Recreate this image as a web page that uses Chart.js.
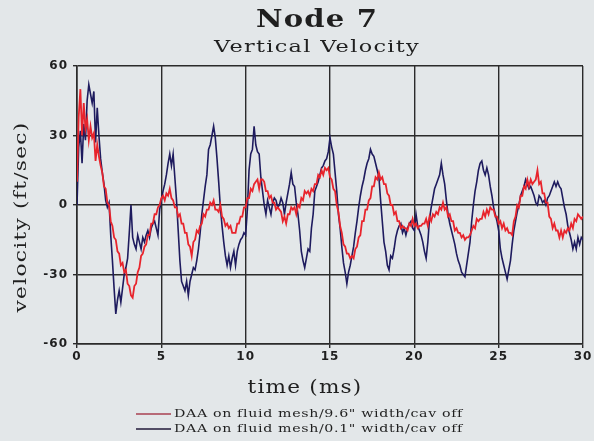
<!DOCTYPE html>
<html>
<head>
<meta charset="utf-8">
<script src="https://cdn.jsdelivr.net/npm/chart.js@4.4.1/dist/chart.umd.min.js"></script>
<style>
  html, body { margin: 0; padding: 0; background: #e3e7e9; }
  #wrap { width: 594px; height: 441px; position: relative; }
</style>
</head>
<body>
<div id="wrap"><canvas id="nodeChart" width="594" height="441"></canvas></div>
<script>
// Sample spacing of the traces (ms); one value every 0.1 ms from 0 to 30 ms.
const sampleStepMs = 0.1;

// Red trace: DAA on fluid mesh / 9.6" width / cav off (ft/sec)
const velRed = [
  10, 38, 50, 30, 44, 33, 37, 28, 34, 29,
  31, 19, 26, 21, 17, 14, 8, 7, 1, 0,
  -7, -9, -14, -15, -20, -21, -26, -25, -29, -28,
  -34, -35, -39, -40, -35, -34, -29, -27, -22, -21,
  -18, -17, -13, -13, -8, -8, -4, -4, -1, 0,
  3, 4, 2, 5, 4, 7, 3, 2, -1, -1,
  -5, -4, -8, -8, -12, -12, -17, -18, -22, -16,
  -15, -11, -12, -9, -8, -4, -5, -2, -2, 1,
  0, 2, -2, -2, -3, 0, -5, -6, -9, -8,
  -10, -9, -12, -12, -12, -8, -8, -5, -5, -1,
  -1, 3, 3, 7, 6, 9, 10, 11, 7, 11,
  11, 10, 6, 6, 3, 4, 1, 1, -2, -1,
  -2, -3, -7, -5, -8, -4, -4, -1, -2, -1,
  -4, 0, -1, 3, 2, 6, 5, 6, 4, 7,
  6, 9, 9, 13, 12, 15, 13, 16, 15, 16,
  12, 11, 7, 6, 0, -3, -9, -12, -17, -18,
  -21, -21, -23, -22, -23, -19, -18, -14, -13, -7,
  -7, -2, -2, 2, 3, 8, 8, 12, 11, 14,
  11, 12, 9, 9, 5, 4, 0, 0, -4, -3,
  -7, -7, -10, -9, -10, -10, -11, -8, -9, -6,
  -9, -8, -10, -9, -9, -8, -8, -6, -9, -5,
  -7, -4, -5, -3, -4, -1, -2, 1, -2, -1,
  -5, -4, -7, -7, -11, -10, -12, -12, -14, -13,
  -15, -14, -14, -13, -11, -9, -10, -6, -7, -6,
  -6, -3, -5, -2, -4, -1, -2, -2, -5, -5,
  -8, -7, -10, -8, -11, -10, -12, -12, -13, -7,
  -5, 0, -1, 4, 4, 8, 7, 11, 8, 11,
  9, 10, 11, 15, 9, 10, 5, 5, 1, 1,
  -5, -6, -10, -8, -11, -11, -14, -11, -14, -11,
  -12, -10, -11, -8, -10, -6, -7, -4, -5, -6,
  -5
];

// Dark blue trace: DAA on fluid mesh / 0.1" width / cav off (ft/sec)
const velBlue = [
  0, 25, 32, 18, 35, 28, 45, 52, 48, 44,
  49, 27, 42, 30, 20, 14, 9, 2, -1, 1,
  -13, -24, -36, -47, -41, -37, -42, -36, -30, -27,
  -23, -12, 0, -14, -17, -19, -13, -16, -19, -14,
  -16, -13, -11, -14, -10, -8, -7, -10, -13, -2,
  2, 6, 9, 13, 18, 22, 17, 22, 12, 2,
  -11, -24, -33, -35, -37, -33, -39, -33, -30, -27,
  -28, -24, -19, -12, -4, 2, 8, 13, 24, 26,
  30, 34, 29, 20, 10, -1, -9, -16, -22, -26,
  -22, -27, -23, -20, -26, -20, -17, -15, -14, -12,
  -13, -2, 15, 22, 24, 34, 26, 23, 22, 12,
  6, 0, -4, 2, -1, -4, 1, 3, 2, -1,
  0, 3, 1, -4, 1, 5, 9, 14, 9, 8,
  1, -4, -11, -20, -24, -27, -23, -19, -20, -10,
  -4, 6, 8, 10, 13, 16, 17, 19, 20, 23,
  29, 25, 22, 14, 6, -4, -10, -18, -25, -29,
  -34, -29, -26, -22, -18, -12, -7, -1, 4, 8,
  11, 15, 18, 20, 24, 22, 21, 18, 15, 12,
  2, -7, -16, -20, -26, -28, -22, -23, -19, -14,
  -11, -9, -8, -12, -10, -13, -10, -8, -7, -10,
  -11, -4, -9, -11, -13, -16, -20, -23, -16, -6,
  -1, 3, 7, 9, 11, 13, 18, 13, 9, 2,
  -4, -8, -11, -14, -17, -21, -24, -26, -29, -30,
  -31, -26, -21, -16, -7, 0, 6, 10, 15, 18,
  19, 15, 13, 16, 13, 8, 4, -1, -4, -7,
  -11, -19, -23, -26, -29, -32, -28, -24, -17, -11,
  -7, -3, 0, 4, 6, 8, 11, 9, 7, 8,
  6, 4, 1, 0, 4, 3, 1, 2, 0, 3,
  4, 6, 8, 10, 8, 10, 8, 7, 3, -1,
  -4, -9, -12, -15, -19, -16, -19, -14, -17, -14,
  -15
];

const seriesNames = [
  'DAA on fluid mesh/9.6" width/cav off',
  'DAA on fluid mesh/0.1" width/cav off'
];
const xTicks = [0, 5, 10, 15, 20, 25, 30];
const yTicks = [-60, -30, 0, 30, 60];

const redColor = "#e8242c";
const blueColor = "#1e1b5e";
const inkColor = "#1f1f1f";

function toPoints(values) {
  return values.map((v, i) => ({ x: Math.round(i * sampleStepMs * 10) / 10, y: v }));
}

// The original lettering is a very wide face. Draw it with a normal
// serif and stretch it sideways to the width it has in the figure.
function drawWide(ctx, text, x, y, width, font, opts = {}) {
  ctx.save();
  ctx.font = font;
  ctx.letterSpacing = opts.spacing || "0px";
  ctx.textBaseline = opts.baseline || "alphabetic";
  ctx.textAlign = opts.align || "center";
  const natural = ctx.measureText(text).width;
  ctx.translate(x, y);
  if (opts.rotate) ctx.rotate(opts.rotate);
  ctx.scale(width / natural, 1);
  ctx.fillText(text, 0, 0);
  ctx.restore();
}

// A bit of letter spacing on the tick labels too.
const spacingPlugin = {
  id: "tickSpacing",
  beforeDraw(chart) {
    chart.ctx.letterSpacing = "1px";
  },
};

// Titles, axis captions and the two-row legend are placed by hand
// so they sit where the original figure has them.
const textPlugin = {
  id: "nodeText",
  afterDraw(chart) {
    const { ctx } = chart;
    ctx.save();
    ctx.fillStyle = inkColor;

    drawWide(ctx, "Node 7", 317, 27, 122, "bold 25px 'DejaVu Serif'", { spacing: "1px" });
    drawWide(ctx, "Vertical Velocity", 317, 52, 206, "17px 'DejaVu Serif'", { spacing: "1px" });
    drawWide(ctx, "time (ms)", 305, 388, 115, "18px 'DejaVu Serif'", { spacing: "1px", baseline: "middle" });
    drawWide(ctx, "velocity (ft/sec)", 22, 217, 191, "17px 'DejaVu Serif'",
      { spacing: "1px", baseline: "middle", rotate: -Math.PI / 2 });

    // legend rows
    const rows = [
      { y: 414, color: "#a84050", text: seriesNames[0] },
      { y: 429, color: "#221a38", text: seriesNames[1] },
    ];
    rows.forEach((r) => {
      ctx.strokeStyle = r.color;
      ctx.lineWidth = 1.5;
      ctx.beginPath();
      ctx.moveTo(136, r.y);
      ctx.lineTo(171, r.y);
      ctx.stroke();
      drawWide(ctx, r.text, 174, r.y, 289, "11px 'DejaVu Serif'",
        { spacing: "0.5px", baseline: "middle", align: "left" });
    });
    ctx.restore();
  },
};

const ctx = document.getElementById("nodeChart").getContext("2d");
new Chart(ctx, {
  type: "line",
  data: {
    datasets: [
      {
        label: seriesNames[0],
        data: toPoints(velRed),
        borderColor: redColor,
        borderWidth: 1.8,
        pointRadius: 0,
        tension: 0,
      },
      {
        label: seriesNames[1],
        data: toPoints(velBlue),
        borderColor: blueColor,
        borderWidth: 1.6,
        pointRadius: 0,
        tension: 0,
      },
    ],
  },
  options: {
    responsive: false,
    animation: false,
    layout: { padding: { top: 66, right: 11, left: 0, bottom: 0 } },
    plugins: {
      legend: { display: false },
      title: { display: false },
      tooltip: { enabled: false },
    },
    scales: {
      x: {
        type: "linear",
        min: 0,
        max: 30,
        afterFit: (scale) => { scale.height = 97; },
        afterBuildTicks: (scale) => { scale.ticks = xTicks.map((v) => ({ value: v })); },
        ticks: {
          color: inkColor,
          padding: 2,
          maxRotation: 0,
          font: { family: "'DejaVu Sans'", size: 12, weight: "bold" },
        },
        grid: { color: "#2b2b2b", lineWidth: 1.4, tickLength: 4 },
        border: { color: "#2b2b2b", width: 1.6 },
      },
      y: {
        min: -60,
        max: 60,
        afterFit: (scale) => { scale.width = 77; },
        afterBuildTicks: (scale) => { scale.ticks = yTicks.map((v) => ({ value: v })); },
        ticks: {
          color: inkColor,
          padding: 5,
          font: { family: "'DejaVu Sans'", size: 12, weight: "bold" },
        },
        grid: { color: "#2b2b2b", lineWidth: 1.4, tickLength: 4 },
        border: { color: "#2b2b2b", width: 1.6 },
      },
    },
  },
  plugins: [spacingPlugin, textPlugin],
});
</script>
</body>
</html>
